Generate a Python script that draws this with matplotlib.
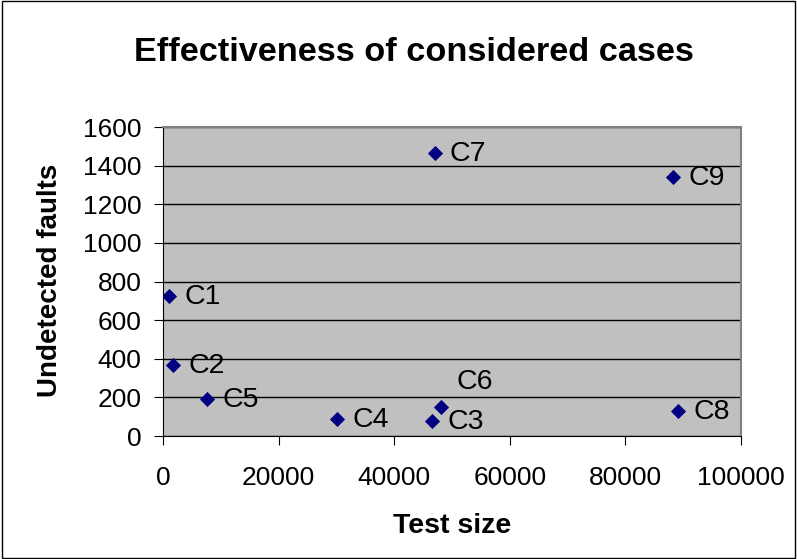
import matplotlib.pyplot as plt
from matplotlib.patches import Rectangle

plt.rcParams['font.family'] = ['Liberation Sans', 'DejaVu Sans']

# data
cases = ['C1', 'C2', 'C3', 'C4', 'C5', 'C6', 'C7', 'C8', 'C9']
test_size = [1000, 1700, 46500, 30100, 7600, 48100, 47000, 89100, 88200]
undetected = [725, 368, 78, 88, 192, 150, 1465, 130, 1341]

fig = plt.figure(figsize=(7.97, 5.59), dpi=100)
ax = fig.add_axes([0.2045, 0.22, 0.7252, 0.5528])
ax.set_facecolor('#C0C0C0')

ax.scatter(test_size, undetected, marker='D', s=60, color='#000080',
           linewidths=0, zorder=3)

# label offsets (points) - C6 sits above its marker
for name, x, y in zip(cases, test_size, undetected):
    off = (11, -1) if name != 'C6' else (11, 18)
    ax.annotate(name, (x, y), xytext=off, textcoords='offset points',
                fontsize=20.5, va='center', ha='left')

ax.set_xlim(0, 100000)
ax.set_ylim(0, 1600)
ax.set_xticks(range(0, 100001, 20000))
ax.set_yticks(range(0, 1601, 200))
ax.tick_params(labelsize=19, direction='out', length=6.5, color='black')
ax.tick_params(axis='x', pad=15)
ax.tick_params(axis='y', pad=9)
ax.yaxis.grid(True, color='black', linewidth=1)
ax.set_axisbelow(True)

for side in ('top', 'right'):
    ax.spines[side].set_color('#808080')
    ax.spines[side].set_linewidth(1.5)
for side in ('left', 'bottom'):
    ax.spines[side].set_color('black')

fig.text(0.567, 1 - 533 / 559, 'Test size', fontsize=20.5, fontweight='bold',
         ha='center', va='baseline')
fig.text(50 / 797, 1 - 280 / 559, 'Undetected faults', fontsize=20,
         fontweight='bold', ha='center', va='center', rotation=90)
fig.text(414 / 797, 1 - 61 / 559, 'Effectiveness of considered cases',
         fontsize=24.7, fontweight='bold', ha='center', va='baseline')

fig.patches.append(Rectangle((0.002, 0.002), 0.996, 0.996, transform=fig.transFigure,
                             fill=False, edgecolor='black', linewidth=1))

fig.savefig('out.png', dpi=100)
